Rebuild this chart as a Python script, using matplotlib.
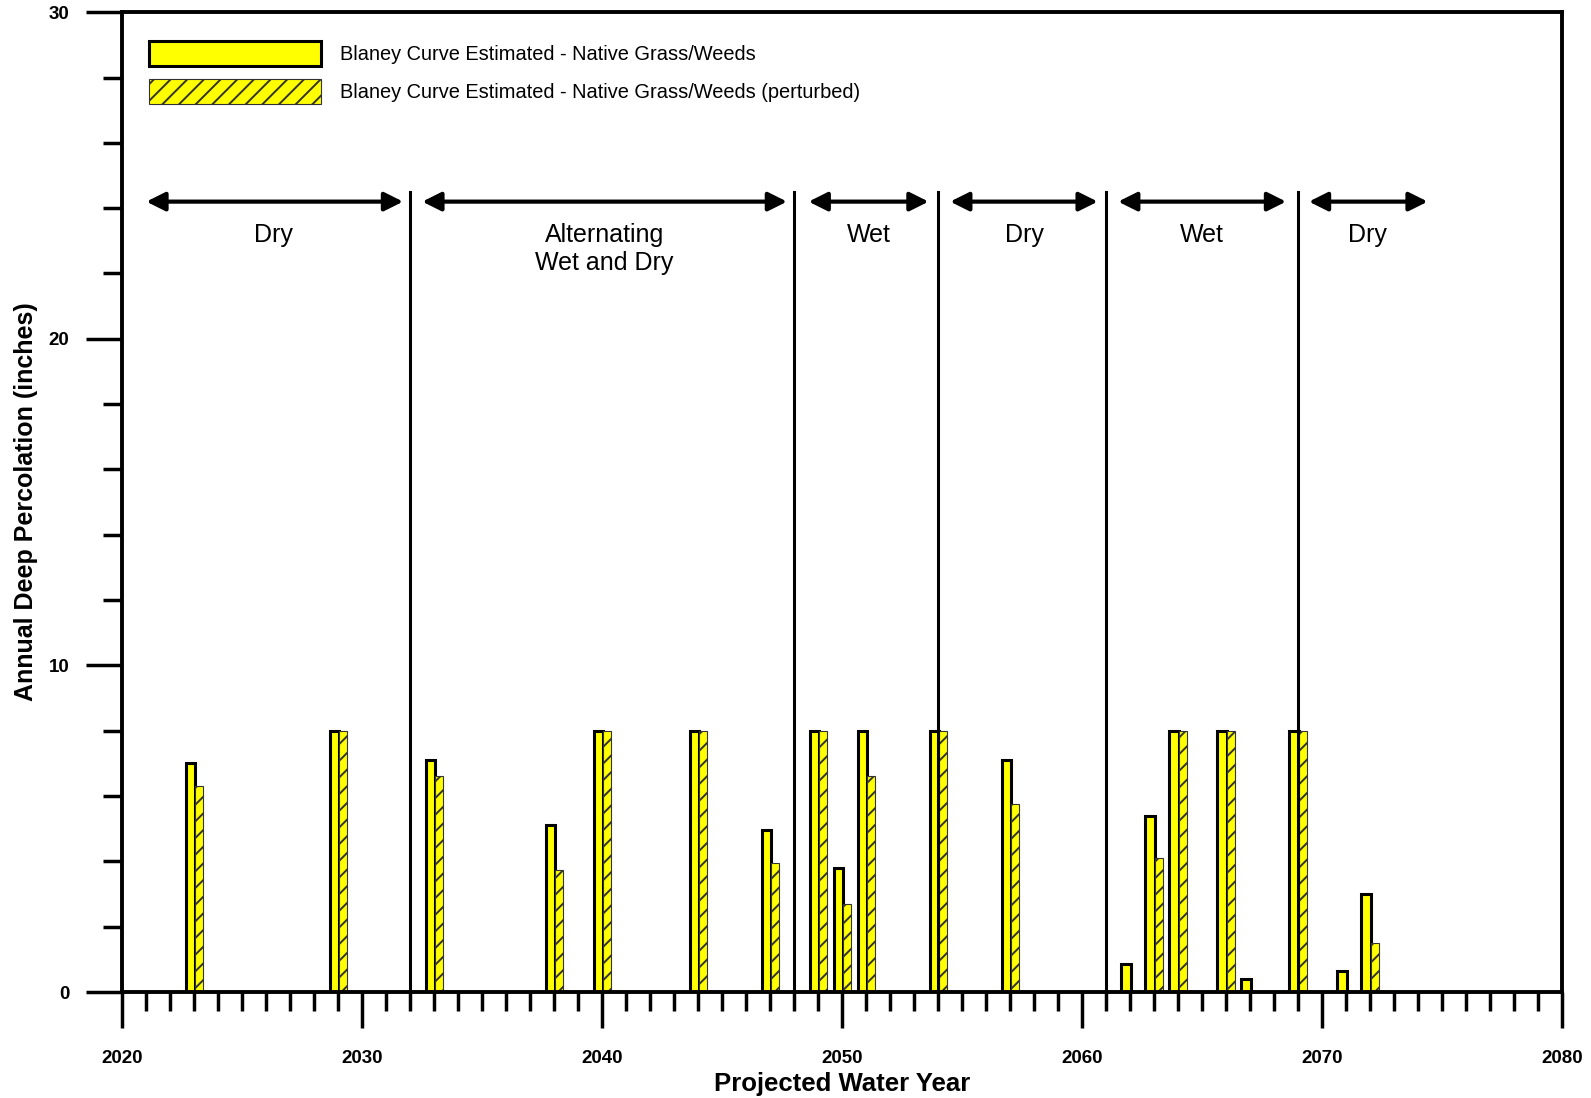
import matplotlib
matplotlib.use("Agg")
import matplotlib.pyplot as plt
from matplotlib.ticker import MultipleLocator

plt.rcParams['font.family'] = ['Liberation Sans', 'DejaVu Sans']
plt.rcParams['hatch.linewidth'] = 1.4
plt.rcParams['hatch.color'] = 'black'

years = [2023, 2029, 2033, 2038, 2040, 2044, 2047, 2049, 2050, 2051, 2054,
         2057, 2062, 2063, 2064, 2066, 2067, 2069, 2071, 2072]
base = [7.0, 8.0, 7.1, 5.1, 8.0, 8.0, 4.95, 8.0, 3.8, 8.0, 8.0,
        7.1, 0.85, 5.4, 8.0, 8.0, 0.4, 8.0, 0.65, 3.0]
perturbed = [6.3, 8.0, 6.6, 3.75, 8.0, 8.0, 3.95, 8.0, 2.7, 6.6, 8.0,
             5.75, 0.0, 4.1, 8.0, 8.0, 0.0, 8.0, 0.0, 1.5]

period_bounds = [2032, 2048, 2054, 2061, 2069]
arrow_spans = [(2021.0, 2031.7), (2032.5, 2047.7), (2048.6, 2053.6),
               (2054.5, 2060.65), (2061.5, 2068.5), (2069.45, 2074.4)]
period_labels = ["Dry", "Alternating\nWet and Dry", "Wet", "Dry", "Wet", "Dry"]
label_x = [2026.3, 2040.1, 2051.1, 2057.6, 2065.0, 2071.9]

series_names = ["Blaney Curve Estimated - Native Grass/Weeds",
                "Blaney Curve Estimated - Native Grass/Weeds (perturbed)"]

fig = plt.figure(figsize=(15.91, 10.98), dpi=100)
ax = fig.add_axes([0.0769, 0.0965, 0.9049, 0.8924])

yellow = '#FFFF00'
ax.bar([y - 0.17 for y in years], base, width=0.38, color=yellow,
       edgecolor='black', linewidth=2.2, label=series_names[0], zorder=2)
ax.bar([y + 0.2 for y in years], [p if p > 0 else float('nan') for p in perturbed],
       width=0.36, color=yellow, edgecolor='#333333', linewidth=0.8, hatch='//',
       label=series_names[1], zorder=2)

for b in period_bounds:
    ax.plot([b, b], [0, 24.5], color='black', lw=2.2, zorder=3)

for (s, e) in arrow_spans:
    ax.annotate('', xy=(e, 24.2), xytext=(s, 24.2),
                arrowprops=dict(arrowstyle='<|-|>', color='black', lw=3,
                                mutation_scale=28, shrinkA=0, shrinkB=0))
for lbl, x in zip(period_labels, label_x):
    ax.text(x, 23.55, lbl, ha='center', va='top', fontsize=18, linespacing=1.2)

ax.set_xlim(2020, 2080)
ax.set_ylim(0, 30)
ax.xaxis.set_major_locator(MultipleLocator(10))
ax.xaxis.set_minor_locator(MultipleLocator(1))
ax.yaxis.set_major_locator(MultipleLocator(10))
ax.yaxis.set_minor_locator(MultipleLocator(2))

ax.tick_params(axis='both', which='major', direction='out', length=26, width=2.5,
               pad=12)
ax.tick_params(axis='both', which='minor', direction='out', length=14, width=2.5)
ax.tick_params(axis='x', which='major', pad=16)
for lab in ax.get_xticklabels() + ax.get_yticklabels():
    lab.set_fontweight('bold')
    lab.set_fontsize(13.5)

for sp in ax.spines.values():
    sp.set_linewidth(2.8)

ax.set_xlabel("Projected Water Year", fontsize=18.5, fontweight='bold', labelpad=3)
ax.set_ylabel("Annual Deep Percolation (inches)", fontsize=18, fontweight='bold',
              labelpad=8)

leg = ax.legend(loc='upper left', bbox_to_anchor=(0.006, 0.989), frameon=False,
                fontsize=14.4, handlelength=8.6, handleheight=1.55,
                handletextpad=0.95, labelspacing=0.65)

fig.savefig("out.png", dpi=100)
